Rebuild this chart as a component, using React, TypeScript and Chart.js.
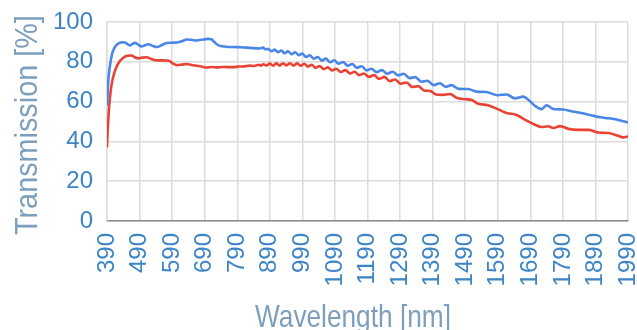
import React, { useEffect, useRef } from "react";
import { Chart, registerables } from "chart.js";

Chart.register(...registerables);

const xTicks = [390, 490, 590, 690, 790, 890, 990, 1090, 1190, 1290, 1390, 1490, 1590, 1690, 1790, 1890, 1990];
const xTitle = "Wavelength [nm]";
const yTitle = "Transmission [%]";

const blueX = [
  390, 393, 396, 400, 405, 410, 418, 427, 437, 445, 452, 461, 468, 476, 486, 496, 506, 517, 530, 543,
  556, 573, 590, 604, 620, 635, 650, 665, 680, 700, 710, 718, 727, 737, 755, 777, 800, 830, 860, 869,
  876, 885, 895, 905, 915, 925, 935, 946, 957, 968, 979, 990, 1001, 1013, 1025, 1037, 1050, 1062, 1075, 1088,
  1101, 1115, 1129, 1143, 1157, 1172, 1187, 1202, 1218, 1234, 1250, 1267, 1284, 1301, 1319, 1337, 1355, 1374, 1393, 1412,
  1430, 1448, 1470, 1499, 1525, 1555, 1590, 1617, 1643, 1668, 1690, 1705, 1725, 1740, 1760, 1790, 1820, 1850, 1880, 1905,
  1930, 1955, 1975, 1990,
];
const blueY = [
  58, 68, 74, 79, 83.5, 86, 88.3, 89.4, 89.8, 89.7, 89.0, 88.2, 89.0, 89.5, 88.6, 87.7, 88.3, 88.8, 88.0, 87.4,
  88.2, 89.4, 89.6, 89.7, 90.3, 91.2, 91.0, 90.7, 91.1, 91.5, 91.3, 90.2, 88.8, 88.0, 87.6, 87.4, 87.3, 87.0, 86.7, 87.1,
  86.3, 86.4, 85.3, 86.1, 84.8, 85.7, 84.3, 85.3, 83.8, 84.8, 83.3, 84.2, 82.4, 83.3, 81.5, 82.4, 80.6, 81.6, 79.8, 80.8,
  79.0, 79.9, 78.0, 78.9, 77.0, 77.8, 75.7, 76.5, 74.8, 75.8, 74.0, 75.0, 73.2, 74.0, 71.8, 72.3, 70.0, 70.5, 68.3, 69.2,
  67.4, 68.3, 66.4, 66.3, 65.0, 64.8, 63.2, 63.6, 61.6, 62.5, 60.0, 57.8, 56.2, 58.2, 56.3, 56.0, 55.0, 54.1, 53.0, 52.1,
  51.6, 51.0, 50.1, 49.5,
];

const redX = [
  390, 392, 395, 399, 404, 410, 418, 428, 440, 452, 466, 475, 485, 498, 512, 525, 540, 560, 580, 592,
  605, 620, 635, 650, 665, 680, 696, 712, 728, 745, 760, 777, 795, 812, 828, 842, 855, 862, 870, 880,
  890, 900, 910, 920, 930, 941, 952, 963, 974, 985, 996, 1007, 1019, 1031, 1043, 1056, 1068, 1081, 1094, 1108,
  1122, 1136, 1150, 1164, 1179, 1194, 1210, 1226, 1242, 1258, 1275, 1292, 1310, 1328, 1346, 1364, 1383, 1400, 1420, 1443,
  1465, 1490, 1510, 1530, 1560, 1590, 1617, 1648, 1673, 1704, 1725, 1745, 1760, 1781, 1807, 1837, 1868, 1899, 1930, 1960,
  1975, 1990,
];
const redY = [
  37, 45, 54, 62, 68.5, 73, 77, 80, 82, 83, 83.2, 82.3, 81.7, 82.1, 82.3, 81.5, 80.8, 80.7, 80.5, 79.2,
  78.3, 78.6, 78.9, 78.4, 78.0, 77.6, 77.1, 77.4, 77.2, 77.4, 77.3, 77.3, 77.6, 77.7, 78.1, 77.9, 78.5, 78.1, 78.8, 78.2,
  79.1, 78.1, 79.2, 78.1, 79.3, 78.2, 79.3, 78.1, 79.2, 78.0, 79.0, 77.6, 78.5, 77.0, 77.9, 76.3, 77.2, 75.6, 76.5, 74.9,
  75.8, 74.2, 75.0, 73.3, 74.1, 72.4, 73.3, 71.4, 72.4, 70.3, 71.1, 69.0, 69.6, 67.3, 67.8, 65.6, 65.3, 63.6, 63.4, 63.8,
  61.8, 61.2, 60.8, 58.9, 58.2, 56.2, 54.3, 53.3, 50.9, 48.4, 47.2, 47.6, 46.7, 47.7, 46.3, 45.8, 45.8, 44.5, 44.2, 42.8,
  42.0, 42.5,
];

const tickColor = "#3d85c6";
const titleColor = "#7d9fbd";
const gridColor = "#dcdcdc";
const fontFamily = "'Liberation Sans', Arial, sans-serif";

const axisTitles = {
  id: "axisTitles",
  afterDraw(chart: any) {
    const ctx = chart.ctx;
    ctx.save();
    ctx.fillStyle = titleColor;
    ctx.font = `32px ${fontFamily}`;
    ctx.textAlign = "left";
    ctx.textBaseline = "alphabetic";
    // x title
    ctx.save();
    ctx.translate(255, 326.5);
    ctx.scale(0.82, 1);
    ctx.fillText(xTitle, 0, 0);
    ctx.restore();
    // y title
    ctx.save();
    ctx.translate(37, 235);
    ctx.rotate(-Math.PI / 2);
    ctx.scale(0.9, 1);
    ctx.fillText(yTitle, 0, 0);
    ctx.restore();
    ctx.restore();
  },
};

export default function App() {
  const ref = useRef<HTMLCanvasElement>(null);
  useEffect(() => {
    if (!ref.current) return;
    const chart = new Chart(ref.current, {
      type: "line",
      data: {
        datasets: [
          {
            label: "Blue",
            data: blueX.map((x, i) => ({ x, y: blueY[i] })),
            borderColor: "#4a86e8",
            borderWidth: 2.6,
            pointRadius: 0,
            cubicInterpolationMode: "monotone",
          },
          {
            label: "Red",
            data: redX.map((x, i) => ({ x, y: redY[i] })),
            borderColor: "#ea4335",
            borderWidth: 2.6,
            pointRadius: 0,
            cubicInterpolationMode: "monotone",
          },
        ],
      },
      plugins: [axisTitles],
      options: {
        animation: false,
        responsive: false,
        layout: { padding: { top: 22, right: 9, left: 0, bottom: 0 } },
        plugins: { legend: { display: false }, tooltip: { enabled: false } },
        scales: {
          x: {
            type: "linear",
            min: 390,
            max: 1990,
            afterBuildTicks: (scale: any) => {
              scale.ticks = xTicks.map((v) => ({ value: v }));
            },
            afterFit: (scale: any) => {
              scale.height = 109;
              scale.paddingLeft = 0;
              scale.paddingRight = 0;
            },
            grid: { color: gridColor, lineWidth: 1.5, drawTicks: false },
            border: { color: "#8a8a8a", width: 1.5 },
            ticks: {
              color: tickColor,
              font: { family: fontFamily, size: 24 },
              padding: 12,
              minRotation: 90,
              maxRotation: 90,
              autoSkip: false,
              callback: (v: any) => String(v),
            },
          },
          y: {
            min: 0,
            max: 100,
            afterFit: (scale: any) => {
              scale.width = 107;
              scale.paddingTop = 0;
              scale.paddingBottom = 0;
            },
            grid: { color: gridColor, lineWidth: 1.5, drawTicks: false },
            border: { color: gridColor, width: 1.5 },
            ticks: {
              stepSize: 10,
              color: tickColor,
              font: { family: fontFamily, size: 24 },
              padding: 14,
              callback: (v: any) => (Number(v) % 20 === 0 ? String(v) : ""),
            },
          },
        },
      },
    });
    return () => chart.destroy();
  }, []);
  return (
    <div style={{ width: 637, height: 330 }}>
      <style>{`body{margin:0;background:#fff}`}</style>
      <canvas ref={ref} width={637} height={330} style={{ display: "block" }} />
    </div>
  );
}
